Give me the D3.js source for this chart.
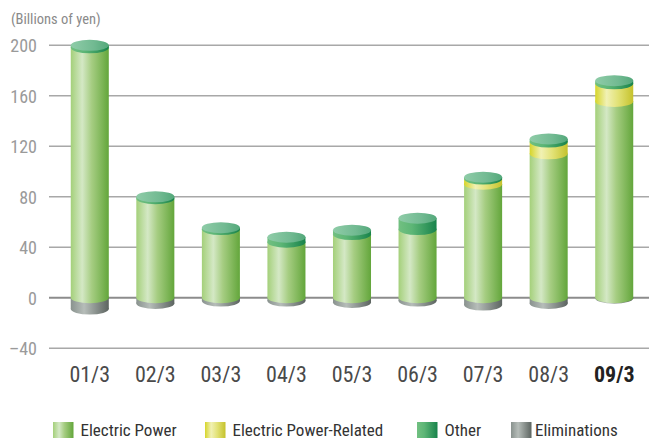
<!DOCTYPE html>
<html><head><meta charset="utf-8">
<script src="https://cdn.jsdelivr.net/npm/d3@7"></script>
<style>
html,body{margin:0;padding:0;background:#fff;}
svg{display:block;}
text{font-family:"Liberation Sans Narrow","Arial Narrow","Roboto Condensed","DejaVu Sans Condensed","Liberation Sans",sans-serif;}
</style>
</head><body>
<script>
const categories = ["01/3","02/3","03/3","04/3","05/3","06/3","07/3","08/3","09/3"];
const electricPower = [198, 78.5, 54, 44, 50, 54, 90, 114, 155.5];
const electricRelated = [0, 0, 0, 0, 0, 0, 4, 9.3, 14];
const other = [2, 1.5, 1.5, 4, 3.5, 9, 1.5, 2.5, 2.5];
const eliminations = [-9, -4.5, -2.6, -2.6, -3.7, -2.6, -5.8, -4.5, -0.4];
const yTicks = [-40, 0, 40, 80, 120, 160, 200];
const seriesNames = ["Electric Power", "Electric Power-Related", "Other", "Eliminations"];

const W = 649, H = 439;
const svg = d3.select("body").append("svg").attr("width", W).attr("height", H);
const defs = svg.append("defs");

function grad(id, stops){
  const g = defs.append("linearGradient").attr("id", id)
    .attr("x1","0%").attr("x2","100%").attr("y1","0%").attr("y2","0%");
  stops.forEach(s => g.append("stop").attr("offset", s[0]).attr("stop-color", s[1]));
}
grad("gEP", [[0,"#a4d07a"],[0.3,"#d4e8c5"],[0.55,"#a6cd82"],[1,"#63a63b"]]);
grad("gRel", [[0,"#d6d52a"],[0.3,"#f1f1b4"],[0.6,"#e2e276"],[1,"#c5c22c"]]);
grad("gOth", [[0,"#72c081"],[0.35,"#5db676"],[1,"#18834b"]]);
grad("gTop", [[0,"#8fcca8"],[0.6,"#72ba92"],[1,"#53a87a"]]);
grad("gEl", [[0,"#89928e"],[0.35,"#b6bdb9"],[1,"#5c6460"]]);
const fills = ["url(#gEP)","url(#gRel)","url(#gOth)","url(#gEl)"];

const x = d3.scaleBand().domain(categories).range([57, 647]).paddingInner(0.42).paddingOuter(0.21);
const y = d3.scaleLinear().domain([-40, 200]).range([348.2, 45.3]);

// unit label
svg.append("text").attr("x", 11).attr("y", 24).attr("font-size", 14.5).attr("fill", "#8a8a8a")
  .text("(Billions of yen)");

// grid
const grid = svg.append("g");
grid.selectAll("line").data(yTicks).join("line")
  .attr("x1", 49).attr("x2", W)
  .attr("y1", d => y(d)).attr("y2", d => y(d))
  .attr("stroke", d => d === 0 ? "#8c8c8c" : "#a8a8a8")
  .attr("stroke-width", d => d === 0 ? 2 : 1.5);

const yAxis = d3.axisLeft(y).tickValues(yTicks).tickSize(0).tickPadding(0)
  .tickFormat(d => d < 0 ? "\u2013" + Math.abs(d) : d);
const ya = svg.append("g").attr("transform", "translate(37,0)").call(yAxis);
ya.select(".domain").remove();
ya.selectAll("text").attr("font-size", 18).attr("fill", "#9a9a9a").attr("dy", "0.35em")
  .style("font-family", null);

const xAxis = d3.axisBottom(x).tickSize(0).tickPadding(0);
const xa = svg.append("g").attr("transform", "translate(0,366)").call(xAxis);
xa.select(".domain").remove();
xa.selectAll("text").attr("font-size", 22).attr("dy", "0.71em")
  .style("font-family", null)
  .attr("font-weight", d => d === "09/3" ? "bold" : null)
  .attr("fill", d => d === "09/3" ? "#222" : "#4a4a4a");

// bars
const ry = 5.5;
const bw = x.bandwidth();
const barsG = svg.append("g");
categories.forEach((c, i) => {
  const x0 = x(c);
  const g = barsG.append("g");
  const cx = x0 + bw / 2;
  const e = eliminations[i];
  if (e < 0) {
    g.append("rect").attr("x", x0).attr("width", bw).attr("y", y(0)).attr("height", y(e) - y(0)).attr("fill", fills[3]);
    g.append("ellipse").attr("cx", cx).attr("cy", y(e)).attr("rx", bw / 2).attr("ry", ry).attr("fill", fills[3]);
  }
  const vals = [electricPower[i], electricRelated[i], other[i]];
  let base = 0;
  vals.forEach((v, k) => {
    if (v <= 0) return;
    const top = base + v;
    g.append("rect").attr("x", x0).attr("width", bw).attr("y", y(top)).attr("height", y(base) - y(top)).attr("fill", fills[k]);
    g.append("ellipse").attr("cx", cx).attr("cy", y(base)).attr("rx", bw / 2).attr("ry", ry).attr("fill", fills[k]);
    base = top;
  });
  g.append("ellipse").attr("cx", cx).attr("cy", y(base)).attr("rx", bw / 2).attr("ry", ry).attr("fill", "url(#gTop)");
});

// legend
const legendX = [53, 205, 417, 511];
const lg = svg.append("g");
seriesNames.forEach((n, k) => {
  lg.append("rect").attr("x", legendX[k]).attr("y", 422).attr("width", 20.5).attr("height", 16).attr("fill", fills[k]);
  lg.append("text").attr("x", legendX[k] + (k === 3 ? 24 : 27.5)).attr("y", 436).attr("font-size", 17).attr("fill", "#333").text(n);
});
</script>
</body></html>
